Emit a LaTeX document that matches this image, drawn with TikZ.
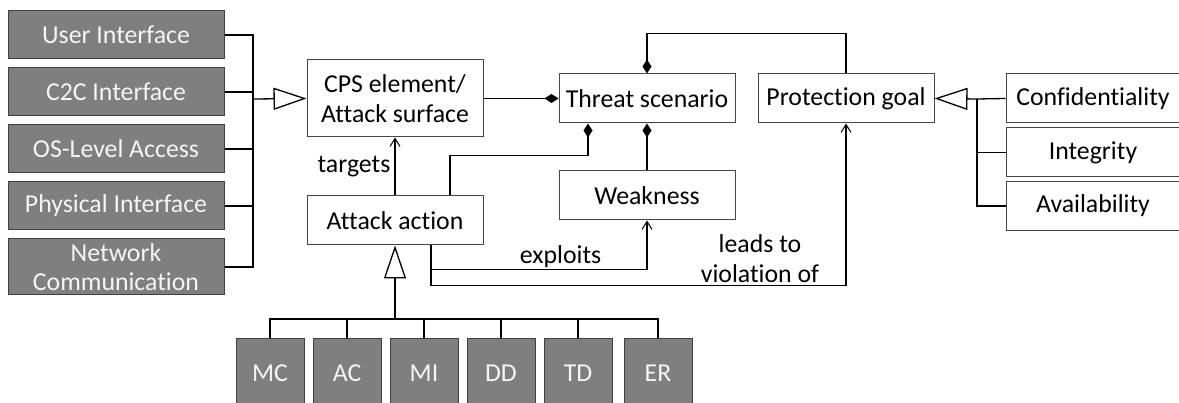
\documentclass[tikz,border=0pt]{standalone}
\usepackage{fontspec}
\setmainfont{Carlito}[Ligatures=NoCommon]
\usetikzlibrary{arrows.meta,calc}
\definecolor{gfill}{RGB}{127,127,127}
\definecolor{gborder}{RGB}{64,64,64}
\definecolor{bborder}{RGB}{70,70,70}
\definecolor{gtext}{RGB}{245,245,245}
\begin{document}
\begin{tikzpicture}[x=1pt,y=-1pt,
  font=\fontsize{25.8}{30}\selectfont,
  gbox/.style={draw=gborder, fill=gfill, text=gtext, minimum width=216pt, minimum height=48pt, inner sep=0pt, line width=1pt, align=center},
  sbox/.style={draw=gborder, fill=gfill, text=gtext, minimum width=68pt, minimum height=68pt, inner sep=0pt, line width=1pt},
  wbox/.style={draw=bborder, fill=white, minimum width=176pt, minimum height=49pt, inner sep=0pt, line width=1pt, align=center},
  ln/.style={line width=1.3pt, black},
  gen/.style={ln, -{Triangle[open,length=33pt,width=22pt,line width=1.3pt]}},
  comp/.style={ln, -{Diamond[length=14pt,width=9pt]}},
  assoc/.style={ln, -{Straight Barb[length=8pt,width=10pt,line width=1pt]}},
  lbl/.style={inner sep=0pt, align=center}
]
\useasboundingbox (0,0) rectangle (1179,403);
\clip (0,0) rectangle (1179,403);

% left gray boxes
\node[gbox] (ui) at (116,35) {User Interface};
\node[gbox] (c2c) at (116,92) {C2C Interface};
\node[gbox] (os) at (116,149) {OS-Level Access};
\node[gbox] (phys) at (116,206) {Physical Interface};
\node[gbox, minimum height=56pt] (net) at (116,267) {Network\\[-1pt]Communication};

% white boxes
\node[wbox, minimum height=77pt] (cps) at (395,98.5) {CPS element/\\Attack surface};
\node[wbox] (threat) at (647,98.5) {Threat scenario};
\node[wbox] (weak) at (647,195.5) {Weakness};
\node[wbox] (attack) at (395,220.5) {Attack action};
\node[wbox] (pg) at (846,98.5) {Protection goal};
\node[wbox, minimum width=174pt] (conf) at (1093,98.5) {Confidentiality};
\node[wbox, minimum width=174pt] (integ) at (1093,152.5) {Integrity};
\node[wbox, minimum width=174pt] (avail) at (1093,206) {Availability};

% bottom gray boxes
\node[sbox] (mc) at (270,373) {MC};
\node[sbox] (ac) at (347,373) {AC};
\node[sbox] (mi) at (424,373) {MI};
\node[sbox] (dd) at (501,373) {DD};
\node[sbox] (td) at (578,373) {TD};
\node[sbox] (er) at (658,373) {ER};

% bus coordinates
\coordinate (lbus) at (253,99);
\coordinate (rbus) at (977,99);
\coordinate (bbus) at (395,319);

% left generalization
\draw[ln] (ui.east) -| (lbus);
\draw[ln] (c2c.east) -- (c2c.east -| lbus);
\draw[ln] (os.east) -- (os.east -| lbus);
\draw[ln] (phys.east) -- (phys.east -| lbus);
\draw[ln] (net.east) -| (lbus);
\draw[gen] (lbus) -- (cps.west);

% right generalization
\draw[ln] (conf.west) -- (rbus);
\draw[ln] (integ.west) -| (rbus);
\draw[ln] (avail.west) -| (rbus);
\draw[gen] (rbus) -- (pg.east);

% bottom generalization
\draw[ln] (mc.north) |- (bbus);
\draw[ln] (er.north) |- (bbus);
\draw[ln] (ac.north) -- (ac.north |- bbus);
\draw[ln] (mi.north) -- (mi.north |- bbus);
\draw[ln] (dd.north) -- (dd.north |- bbus);
\draw[ln] (td.north) -- (td.north |- bbus);
\draw[gen] (bbus) -- (attack.south);

% compositions
\draw[comp] (cps.east) -- (threat.west);
\draw[comp] (weak.north) -- (threat.south);
\draw[comp] ([xshift=55pt]attack.north) |- ++(0,-40) -| ([xshift=-59pt]threat.south);
\draw[comp] (pg.north) |- ([yshift=40pt]threat.north) -- (threat.north);

% associations
\draw[assoc] (attack.north) -- node[lbl, left=4pt] {targets} (cps.south);
\draw[assoc] ([xshift=36pt]attack.south) |- ++(0,24) -| node[lbl, pos=0.3, above=1pt] {exploits} (weak.south);
\draw[assoc] ([xshift=36pt]attack.south) |- ++(0,40) -| (pg.south);
\node[lbl] (lt) at (760,259) {leads to\\violation of};
\end{tikzpicture}
\end{document}
